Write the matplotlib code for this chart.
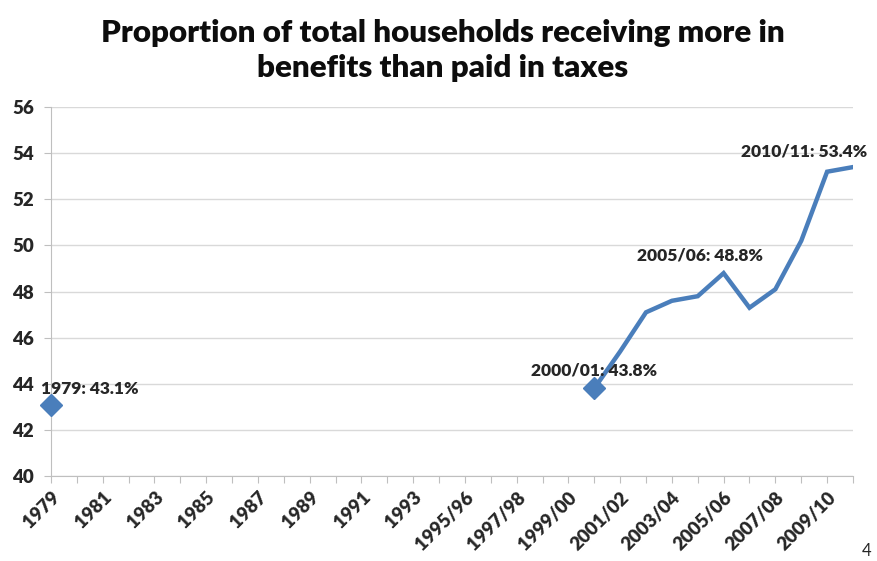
import numpy as np
import matplotlib
matplotlib.use("Agg")
import matplotlib.pyplot as plt

matplotlib.rcParams['font.family'] = ['Lato', 'DejaVu Sans']

years = [str(y) for y in range(1979, 1995)]
fin_years = ["1995/96", "1996/97", "1997/98", "1998/99", "1999/00", "2000/01",
             "2001/02", "2002/03", "2003/04", "2004/05", "2005/06", "2006/07",
             "2007/08", "2008/09", "2009/10", "2010/11"]
categories = years + fin_years

# percent of households; no data between 1980 and 1999/00
share = [43.1] + [np.nan] * 20 + [43.8, 45.4, 47.1, 47.6, 47.8, 48.8,
                                  47.3, 48.1, 50.2, 53.2, 53.4]

marked = ["1979", "2000/01"]
labelled = {"1979": "1979: 43.1%", "2000/01": "2000/01: 43.8%",
            "2005/06": "2005/06: 48.8%", "2010/11": "2010/11: 53.4%"}

blue = "#4A7EBB"
grey = "#BFBFBF"

fig = plt.figure(figsize=(8.78, 5.61), dpi=100)
ax = fig.add_axes([0.058, 0.1515, 0.9135, 0.6575])

x = np.arange(len(categories))
ax.plot(x, share, color=blue, linewidth=3.2, solid_joinstyle="miter", zorder=3)
mx = [categories.index(c) for c in marked]
ax.plot(mx, [share[i] for i in mx], linestyle="none", marker="D",
        markersize=11, color=blue, zorder=4, clip_on=False)

offsets = {"1979": (-7, 11, "left"), "2000/01": (0, 13, "center"),
           "2005/06": (-17, 13, "center"), "2010/11": (-35, 11, "center")}
for cat, txt in labelled.items():
    i = categories.index(cat)
    dx, dy, ha = offsets[cat]
    ax.annotate(txt, (i, share[i]), xytext=(dx, dy), textcoords="offset points",
                ha=ha, va="center", fontsize=12.5, fontweight="heavy",
                color="#262626", zorder=5)

ax.set_xlim(0, len(categories) - 1)
ax.set_ylim(40, 56)
ax.set_yticks(range(40, 57, 2))
ax.set_xticks(x)
ax.set_xticklabels([c if i % 2 == 0 else "" for i, c in enumerate(categories)],
                   rotation=45, ha="right", rotation_mode="anchor",
                   fontsize=13.5, fontweight="heavy", color="#262626")
for lab in ax.get_yticklabels():
    lab.set_fontweight("heavy")
    lab.set_fontsize(13.5)
    lab.set_color("#262626")

ax.grid(axis="y", color="#D9D9D9", linewidth=1)
ax.set_axisbelow(True)
for s in ["top", "right"]:
    ax.spines[s].set_visible(False)
for s in ["left", "bottom"]:
    ax.spines[s].set_color(grey)
ax.tick_params(axis="both", color=grey, length=5, direction="out")
ax.tick_params(axis="y", pad=7)
ax.tick_params(axis="x", pad=4)

fig.text(0.504, 0.91, "Proportion of total households receiving more in\nbenefits than paid in taxes",
         ha="center", va="center", fontsize=22.5, fontweight="heavy",
         color="#0D0D0D", linespacing=1.3)
fig.text(0.982, 0.004, "4", ha="left", va="bottom", fontsize=12, color="#262626")

fig.savefig("out.png", dpi=100)
